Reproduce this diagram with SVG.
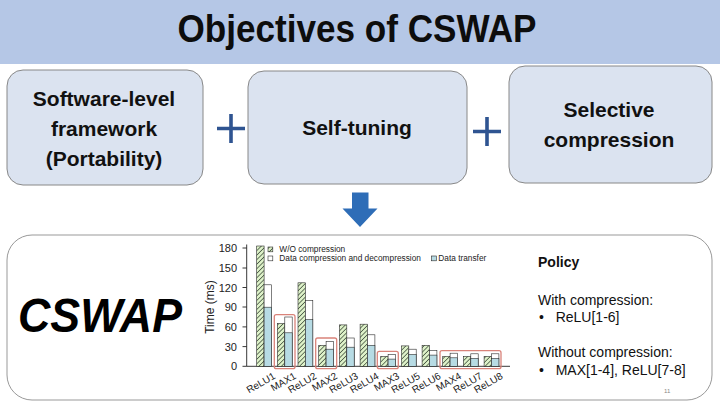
<svg xmlns="http://www.w3.org/2000/svg" width="720" height="405" viewBox="0 0 720 405">
<defs>
<pattern id="hatch" width="3.2" height="3.2" patternUnits="userSpaceOnUse" patternTransform="rotate(45)">
<rect width="3.2" height="3.2" fill="#def2c9"/>
<line x1="0" y1="0" x2="0" y2="3.2" stroke="#2b3a2b" stroke-width="1.3"/>
</pattern>
<style>
.box{fill:#dbe3f0;stroke:#888;stroke-width:1}
.bt{font-family:"Liberation Sans",Arial,sans-serif;font-weight:bold;font-size:21px;fill:#111;text-anchor:middle}
.plus{stroke:#2f5491;stroke-width:3.6;fill:none}
.hb{fill:url(#hatch);stroke:#2b2b2b;stroke-width:0.6}
.wb{fill:#fff;stroke:#2b2b2b;stroke-width:0.6}
.tb{fill:#b7dbe4;stroke:#2b2b2b;stroke-width:0.6}
.rb{fill:none;stroke:#d9837a;stroke-width:1.3}
.ax{stroke:#222;stroke-width:0.9;fill:none}
.tl{font-family:"Liberation Sans",Arial,sans-serif;font-size:11px;fill:#222;text-anchor:end}
.xl{font-family:"Liberation Sans",Arial,sans-serif;font-size:10px;fill:#222;text-anchor:end}
.lg{font-family:"Liberation Sans",Arial,sans-serif;font-size:8.3px;fill:#222}
.pt{font-family:"Liberation Sans",Arial,sans-serif;font-size:14px;fill:#111}
</style>
</defs>
<rect x="0" y="0" width="720" height="405" fill="#ffffff"/>

<g id="title">
<rect x="0" y="0" width="720" height="64" fill="#b5c7e6"/>
<text x="357" y="42" font-family="'Liberation Sans',Arial,sans-serif" font-weight="bold" font-size="38" fill="#0d0d0d" text-anchor="middle" textLength="359" lengthAdjust="spacingAndGlyphs">Objectives of CSWAP</text>
</g>

<g id="node-software">
<rect class="box" x="7" y="70" width="196" height="115" rx="16"/>
<text class="bt" x="104" y="106">Software-level</text>
<text class="bt" x="104" y="136">framework</text>
<text class="bt" x="104" y="166">(Portability)</text>
</g>

<g id="node-selftuning">
<rect class="box" x="248" y="71" width="219" height="113" rx="16"/>
<text class="bt" x="357" y="135">Self-tuning</text>
</g>

<g id="node-selective">
<rect class="box" x="509" y="66" width="203" height="117" rx="16"/>
<text class="bt" x="609" y="117">Selective</text>
<text class="bt" x="609" y="147">compression</text>
</g>

<g id="connectors">
<path class="plus" d="M217 128.5H245M231 114V143"/>
<path class="plus" d="M473 131.5H501M487 117V146"/>
<path d="M352 192.5H368.5V208.5H377.5L360 227L342.5 208.5H352Z" fill="#2e6db7"/>
</g>

<g id="node-cswap">
<rect x="7" y="235" width="705" height="165" rx="25" fill="#fff" stroke="#999" stroke-width="1"/>
<text x="18" y="332" font-family="'Liberation Sans',Arial,sans-serif" font-weight="bold" font-style="italic" font-size="48" fill="#000" textLength="164" lengthAdjust="spacingAndGlyphs">CSWAP</text>

<g id="chart">
<path class="ax" d="M246.7 244.5V366.3H510"/>
<path class="ax" d="M242.5 248H246.7M242.5 268H246.7M242.5 287.5H246.7M242.5 307H246.7M242.5 326.9H246.7M242.5 346.6H246.7M242.5 366.3H246.7"/>
<text class="tl" x="237" y="252">180</text>
<text class="tl" x="237" y="272">150</text>
<text class="tl" x="237" y="291.5">120</text>
<text class="tl" x="237" y="311">90</text>
<text class="tl" x="237" y="330.9">60</text>
<text class="tl" x="237" y="350.6">30</text>
<text class="tl" x="237" y="370.3">0</text>
<text x="214" y="307" transform="rotate(-90 214 307)" font-family="'Liberation Sans',Arial,sans-serif" font-size="12" fill="#222" text-anchor="middle">Time (ms)</text>

<rect class="hb" x="256.7" y="246.0" width="7.4" height="120.3"/>
<rect class="wb" x="264.1" y="284.8" width="7.4" height="81.5"/>
<rect class="tb" x="264.1" y="307.2" width="7.4" height="59.1"/>

<rect class="hb" x="277.4" y="323.6" width="7.4" height="42.7"/>
<rect class="wb" x="284.8" y="317.0" width="7.4" height="49.3"/>
<rect class="tb" x="284.8" y="332.8" width="7.4" height="33.5"/>

<rect class="hb" x="298.0" y="282.8" width="7.4" height="83.5"/>
<rect class="wb" x="305.4" y="300.6" width="7.4" height="65.7"/>
<rect class="tb" x="305.4" y="319.6" width="7.4" height="46.7"/>

<rect class="hb" x="318.7" y="345.3" width="7.4" height="21.0"/>
<rect class="wb" x="326.1" y="341.3" width="7.4" height="25.0"/>
<rect class="tb" x="326.1" y="349.2" width="7.4" height="17.1"/>

<rect class="hb" x="339.4" y="324.9" width="7.4" height="41.4"/>
<rect class="wb" x="346.8" y="338.0" width="7.4" height="28.3"/>
<rect class="tb" x="346.8" y="347.2" width="7.4" height="19.1"/>

<rect class="hb" x="360.1" y="324.2" width="7.4" height="42.1"/>
<rect class="wb" x="367.5" y="334.8" width="7.4" height="31.5"/>
<rect class="tb" x="367.5" y="345.3" width="7.4" height="21.0"/>

<rect class="hb" x="380.7" y="356.4" width="7.4" height="9.9"/>
<rect class="wb" x="388.1" y="354.5" width="7.4" height="11.8"/>
<rect class="tb" x="388.1" y="359.1" width="7.4" height="7.2"/>

<rect class="hb" x="401.4" y="345.9" width="7.4" height="20.4"/>
<rect class="wb" x="408.8" y="349.2" width="7.4" height="17.1"/>
<rect class="tb" x="408.8" y="354.5" width="7.4" height="11.8"/>

<rect class="hb" x="422.1" y="345.3" width="7.4" height="21.0"/>
<rect class="wb" x="429.5" y="350.5" width="7.4" height="15.8"/>
<rect class="tb" x="429.5" y="355.1" width="7.4" height="11.2"/>

<rect class="hb" x="442.7" y="356.4" width="7.4" height="9.9"/>
<rect class="wb" x="450.1" y="353.2" width="7.4" height="13.1"/>
<rect class="tb" x="450.1" y="357.8" width="7.4" height="8.5"/>

<rect class="hb" x="463.4" y="356.4" width="7.4" height="9.9"/>
<rect class="wb" x="470.8" y="353.8" width="7.4" height="12.5"/>
<rect class="tb" x="470.8" y="358.4" width="7.4" height="7.9"/>

<rect class="hb" x="484.1" y="356.4" width="7.4" height="9.9"/>
<rect class="wb" x="491.5" y="353.8" width="7.4" height="12.5"/>
<rect class="tb" x="491.5" y="358.4" width="7.4" height="7.9"/>

<rect class="rb" x="274.3" y="314.7" width="20.7" height="54" rx="2"/>
<rect class="rb" x="315.7" y="338" width="21" height="30.7" rx="2"/>
<rect class="rb" x="377.3" y="351.3" width="21" height="17.4" rx="2"/>
<rect class="rb" x="440" y="350.7" width="61" height="18" rx="2"/>

<text class="xl" transform="translate(276,378) rotate(-30)">ReLU1</text>
<text class="xl" transform="translate(296.8,378) rotate(-30)">MAX1</text>
<text class="xl" transform="translate(317.4,378) rotate(-30)">ReLU2</text>
<text class="xl" transform="translate(338.1,378) rotate(-30)">MAX2</text>
<text class="xl" transform="translate(358.8,378) rotate(-30)">ReLU3</text>
<text class="xl" transform="translate(379.5,378) rotate(-30)">ReLU4</text>
<text class="xl" transform="translate(400.1,378) rotate(-30)">MAX3</text>
<text class="xl" transform="translate(420.8,378) rotate(-30)">ReLU5</text>
<text class="xl" transform="translate(441.5,378) rotate(-30)">ReLU6</text>
<text class="xl" transform="translate(462.1,378) rotate(-30)">MAX4</text>
<text class="xl" transform="translate(482.8,378) rotate(-30)">ReLU7</text>
<text class="xl" transform="translate(503.5,378) rotate(-30)">ReLU8</text>

<rect class="hb" x="268" y="247" width="4.8" height="4.8"/>
<text class="lg" x="279.3" y="252.3">W/O compression</text>
<rect class="wb" x="268" y="256" width="4.8" height="4.8"/>
<text class="lg" x="279.3" y="261.3">Data compression and decompression</text>
<rect class="tb" x="431.5" y="256" width="4.8" height="4.8"/>
<text class="lg" x="438.3" y="261.3">Data transfer</text>
</g>

<g id="policy">
<text class="pt" x="538" y="267" font-weight="bold" font-size="13">Policy</text>
<text class="pt" x="538" y="305">With compression:</text>
<text class="pt" x="539" y="322">•</text>
<text class="pt" x="555.7" y="322" font-size="13.5">ReLU[1-6]</text>
<text class="pt" x="538" y="357">Without compression:</text>
<text class="pt" x="539" y="375">•</text>
<text class="pt" x="555.7" y="375" font-size="13.5">MAX[1-4], ReLU[7-8]</text>
</g>
<text x="664" y="393" font-family="'Liberation Sans',Arial,sans-serif" font-size="6" fill="#888">11</text>
</g>
</svg>
